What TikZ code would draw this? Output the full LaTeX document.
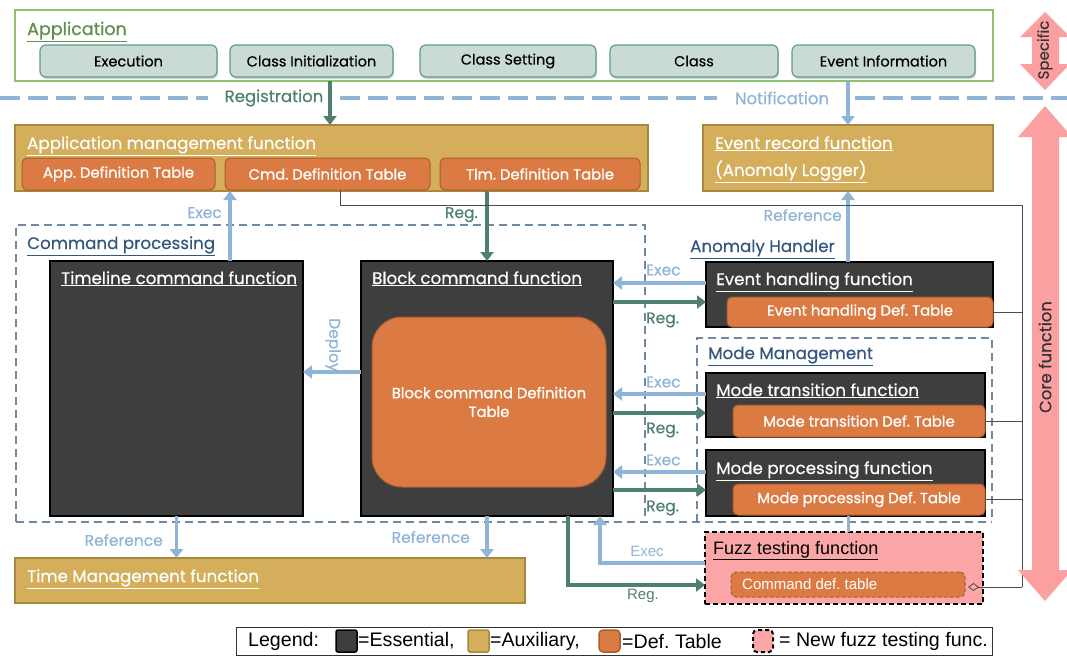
\documentclass[tikz,border=0pt]{standalone}
\usepackage{fontspec}
\setmainfont{Poppins}[FakeBold=0.35]
\newfontfamily\popb{Poppins}[FakeBold=0.9]
\newfontfamily\arialf{Liberation Sans}
\usetikzlibrary{arrows.meta,shadows,calc}
\frenchspacing
\definecolor{dk}{HTML}{3E3E3E}
\definecolor{gold}{HTML}{D4AE5A}
\definecolor{goldb}{HTML}{A8883E}
\definecolor{org}{HTML}{DB7B43}
\definecolor{orgb}{HTML}{A95E2E}
\definecolor{btn}{HTML}{CADBD5}
\definecolor{btnb}{HTML}{5E9C94}
\definecolor{appg}{HTML}{8DC26F}
\definecolor{appt}{HTML}{5D8F4B}
\definecolor{lb}{HTML}{8FB4D6}
\definecolor{gr}{HTML}{4F7F70}
\definecolor{dsh}{HTML}{6E89A3}
\definecolor{ttl}{HTML}{33557E}
\definecolor{pk}{HTML}{FCA7A7}
\definecolor{pka}{HTML}{FB9FA1}
\newcommand{\fs}[1]{\fontsize{#1}{#1}\selectfont}
\tikzset{
  box/.style={anchor=north west, inner sep=0pt, outer sep=0pt},
  ess/.style={box, fill=dk, draw=black, line width=1.5pt},
  aux/.style={box, fill=gold, draw=goldb, line width=1.3pt},
  tab/.style={box, fill=org, draw=orgb, line width=1pt, rounded corners=5pt, text=white, font=\popb\fs{14.8}},
  btnbox/.style={box, fill=btn, draw=btnb, line width=1.2pt, rounded corners=6pt, font=\fs{14.5},
     drop shadow={opacity=0.35, shadow xshift=1pt, shadow yshift=-2pt}},
  wtitle/.style={anchor=base west, inner sep=0pt, text=white, font=\fs{16.7}},
  btitle/.style={anchor=base west, inner sep=0pt, text=ttl, font=\fs{16.7}},
  lbl/.style={inner sep=0pt, font=\fs{15.5}},
  bluearr/.style={draw=lb, line width=3.5pt, -{Triangle[length=9pt,width=13pt]}},
  grnarr/.style={draw=gr, line width=3.5pt, -{Triangle[length=9pt,width=13pt]}},
  dbox/.style={draw=dsh, line width=1.6pt, dash pattern=on 8pt off 5pt},
  sepline/.style={draw=lb, line width=4pt, dash pattern=on 20pt off 8pt},
  thinln/.style={draw=black!70, line width=0.8pt},
  lgtxt/.style={anchor=west, inner sep=0pt, font=\arialf\fs{19.6}},
}
\begin{document}
\frenchspacing
\begin{tikzpicture}[x=1pt,y=-1pt]
\useasboundingbox[fill=white] (0,0) rectangle (1067,656);

% ---------- Application layer ----------
\node[box, draw=appg, line width=1.3pt, minimum width=978pt, minimum height=71pt] (app) at (15,10) {};
\node[anchor=base west, inner sep=0pt, text=appt, font=\fs{17.5}] (apptitle) at (27,35) {\underline{Application}};
\node[btnbox, minimum width=177pt, minimum height=32pt] (exe) at (40,45) {Execution};
\node[btnbox, minimum width=163pt, minimum height=32pt] (cinit) at (230,45) {Class Initialization};
\node[btnbox, minimum width=176pt, minimum height=32pt] (cset) at (420,45) {Class Setting};
\node[btnbox, minimum width=168pt, minimum height=32pt] (cls) at (610,45) {Class};
\node[btnbox, minimum width=183pt, minimum height=32pt] (evi) at (792,45) {Event Information};

% separator
\draw[sepline] (0,98) -- (208,98);
\draw[sepline] (340,98) -- (717,98);
\draw[sepline] (855,98) -- (1067,98);
\node[lbl, text=gr, anchor=center, font=\fs{16.5}] (regl) at (274,98) {Registration};
\node[lbl, text=lb, anchor=center, font=\fs{16.5}] (notl) at (782,98) {Notification};

% ---------- Auxiliary top ----------
\node[aux, minimum width=633pt, minimum height=66pt] (amf) at (15,125) {};
\node[wtitle] (amft) at (27,149) {\underline{Application management function}};
\node[tab, minimum width=193pt, minimum height=32pt] (apptab) at (22,158) {App. Definition Table};
\node[tab, minimum width=205pt, minimum height=32pt] (cmdtab) at (225,158) {Cmd. Definition Table};
\node[tab, minimum width=200pt, minimum height=32pt] (tlmtab) at (440,158) {Tlm. Definition Table};

\node[aux, minimum width=290pt, minimum height=66pt] (erf) at (703,125) {};
\node[wtitle] (erft1) at (715,149) {\underline{Event record function}};
\node[wtitle] (erft2) at (715,176) {\underline{(Anomaly Logger)}};

\draw[grnarr] ([xshift=18.5pt]cinit.south |- app.south) -- ([xshift=18.5pt]cinit.south |- amf.north);
\draw[bluearr] ([xshift=-35.5pt]evi.south |- app.south) -- ([xshift=-35.5pt]evi.south |- erf.north);

% ---------- Command processing ----------
\node[box, minimum width=629pt, minimum height=297pt] (cp) at (16,225) {};
\draw[dbox] (cp.south west) -- (cp.north west) -- (cp.north east) -- (cp.south east);
\node[btitle] (cpt) at (27,249) {\underline{Command processing}};

\node[ess, minimum width=253pt, minimum height=255pt] (tl) at (50,261) {};
\node[wtitle] (tlt) at (61,284) {\underline{Timeline command function}};
\node[ess, minimum width=252pt, minimum height=255pt] (blk) at (361,261) {};
\node[wtitle] (blkt) at (372,284) {\underline{Block command function}};
\node[box, fill=org, draw=orgb, line width=1pt, rounded corners=30pt, minimum width=234pt, minimum height=170pt,
      text=white, font=\popb\fs{14.8}, align=center] (blktab) at (372,317) {Block command Definition\\[4pt]Table};

% ---------- Anomaly handler ----------
\node[btitle] (aht) at (690,252) {\underline{Anomaly Handler}};
\node[ess, minimum width=287pt, minimum height=65pt] (eh) at (706,262) {};
\node[wtitle] (eht) at (716,285) {\underline{Event handling function}};
\node[tab, minimum width=266pt, minimum height=30pt] (ehtab) at (727,297) {Event handling Def. Table};

% ---------- Mode management ----------
\node[box, minimum width=295pt, minimum height=184pt] (mm) at (697,338) {};
\draw[dbox] (mm.south west) -- (mm.north west) -- (mm.north east) -- (mm.south east);
\draw[dbox] (cp.south west) -- (mm.south east);
\node[btitle] (mmt) at (708,359) {\underline{Mode Management}};
\node[ess, minimum width=279pt, minimum height=64pt] (mt) at (706,373) {};
\node[wtitle] (mtt) at (716,396) {\underline{Mode transition function}};
\node[tab, minimum width=252pt, minimum height=32pt] (mttab) at (733,405) {Mode transition Def. Table};
\node[ess, minimum width=279pt, minimum height=66pt] (mp) at (706,450) {};
\node[wtitle] (mpt) at (716,474) {\underline{Mode processing function}};
\node[tab, minimum width=252pt, minimum height=31pt] (mptab) at (733,484) {Mode processing Def. Table};

% ---------- Fuzz testing ----------
\node[box, fill=pk, draw=black, line width=1.5pt, dash pattern=on 5pt off 3pt, minimum width=278pt, minimum height=72pt] (fz) at (705,532) {};
\node[anchor=base west, inner sep=0pt, font=\arialf\fs{18}] (fzt) at (713,554) {\underline{Fuzz testing function}};
\node[box, fill=org, draw=orgb, line width=1pt, dash pattern=on 4pt off 2pt, rounded corners=5pt, minimum width=234pt, minimum height=25pt] (fztab) at (731,572) {};
\node[anchor=west, inner sep=0pt, text=white, font=\arialf\fs{15}] (fztabt) at (742,584.5) {Command def. table};

% ---------- Time management ----------
\node[aux, minimum width=510pt, minimum height=45pt] (tm) at (15,558) {};
\node[wtitle] (tmt) at (27,582) {\underline{Time Management function}};

% ---------- connectors ----------
\coordinate (r1e) at (0,283); \coordinate (r1r) at (0,302);
\coordinate (r2e) at (0,394); \coordinate (r2r) at (0,413);
\coordinate (r3e) at (0,472); \coordinate (r3r) at (0,490);
\coordinate (rfe) at (0,563); \coordinate (rfr) at (0,585);
\coordinate (dep) at (0,372);

\draw[bluearr] ([xshift=53.5pt]tl.north) -- ([xshift=53.5pt]tl.north |- amf.south);
\node[lbl, text=lb, anchor=base east] (l1) at (222,218) {Exec};
\draw[grnarr] (blk.north |- amf.south) -- (blk.north);
\node[lbl, text=gr, anchor=base east] (l2) at (478,218) {Reg.};

\draw[bluearr] (blk.west |- dep) -- (tl.east |- dep);
\node[lbl, text=lb, rotate=-90] (l3) at (333,345) {Deploy};

\draw[bluearr] (eh.west |- r1e) -- (blk.east |- r1e);
\draw[grnarr] (blk.east |- r1r) -- (eh.west |- r1r);
\draw[bluearr] (mt.west |- r2e) -- (blk.east |- r2e);
\draw[grnarr] (blk.east |- r2r) -- (mt.west |- r2r);
\draw[bluearr] (mp.west |- r3e) -- (blk.east |- r3e);
\draw[grnarr] (blk.east |- r3r) -- (mp.west |- r3r);
\node[lbl, text=lb, anchor=west] (e1) at (646,270) {Exec};
\node[lbl, text=gr, anchor=west] (g1) at (646,320) {Reg.};
\node[lbl, text=lb, anchor=west] (e2) at (646,382) {Exec};
\node[lbl, text=gr, anchor=west] (g2) at (646,430) {Reg.};
\node[lbl, text=lb, anchor=west] (e3) at (646,460) {Exec};
\node[lbl, text=gr, anchor=west] (g3) at (646,508) {Reg.};

\draw[bluearr] ([xshift=-1.5pt]eh.north) -- ([xshift=-1.5pt]eh.north |- erf.south);
\node[lbl, text=lb, anchor=east] (rf1) at (842,215) {Reference};
\draw[bluearr] (tl.south) -- (tl.south |- tm.north);
\node[lbl, text=lb, anchor=east] (rf2) at (163,540) {Reference};
\draw[bluearr] (blk.south) -- (blk.south |- tm.north);
\node[lbl, text=lb, anchor=east] (rf3) at (470,537) {Reference};

\draw[bluearr] (fz.west |- rfe) -| ([xshift=113pt]blk.south);
\node[lbl, text=lb, anchor=center, font=\arialf\fs{15}] (fe) at (647,551) {Exec};
\draw[grnarr] ([xshift=81pt]blk.south) |- (fz.west |- rfr);
\node[lbl, text=gr, anchor=center, font=\arialf\fs{15}] (fg) at (643,596) {Reg.};
\draw[draw=lb, line width=3pt] ([xshift=2.5pt]mp.south) -- ([xshift=2.5pt]mp.south |- fz.north);

% thin reference line
\coordinate (rt) at (1022,205);
\coordinate (rb) at (1022,587);
\draw[thinln] ([xshift=12.5pt]cmdtab.south) |- (rt) -- (rb);
\draw[thinln] (ehtab.east) -- (ehtab.east -| rt);
\draw[thinln] (mttab.east) -- (mttab.east -| rt);
\draw[thinln] (mptab.east) -- (mptab.east -| rt);
\draw[thinln, {Diamond[open, length=11pt, width=8pt]}-] ([xshift=3pt]fztab.east |- rb) -- (rb);

% ---------- pink arrows ----------
\fill[pka] (1045,12) -- (1070,37) -- (1059,37) -- (1059,64) -- (1070,64) -- (1045,90) -- (1020,64) -- (1032,64) -- (1032,37) -- (1020,37) -- cycle;
\node[inner sep=0pt, rotate=90, text=black!80, font=\fs{15}] (spec) at (1045,50) {Specific};
\fill[pka] (1045,106) -- (1072,137) -- (1059,137) -- (1059,570) -- (1072,570) -- (1045,601) -- (1018,570) -- (1032,570) -- (1032,137) -- (1018,137) -- cycle;
\node[inner sep=0pt, rotate=90, text=black!80, font=\fs{16.5}] (core) at (1045,357) {Core function};

% ---------- legend ----------
\draw[draw=black!80, line width=0.8pt, fill=white] (236,627) rectangle (992,655.5);
\node[lgtxt] (lg) at (248,641) {Legend:};
\node[box, fill=dk, draw=black, line width=1.5pt, rounded corners=2pt, minimum width=21pt, minimum height=22pt] (lg1) at (336,630) {};
\node[lgtxt] (lg1t) at (358,641) {=Essential,};
\node[box, fill=gold, draw=goldb, line width=1.5pt, rounded corners=2pt, minimum width=21pt, minimum height=22pt] (lg2) at (468,630) {};
\node[lgtxt] (lg2t) at (490,641) {=Auxiliary,};
\node[box, fill=org, draw=orgb, line width=1.5pt, rounded corners=4pt, minimum width=21pt, minimum height=22pt] (lg3) at (599,630) {};
\node[lgtxt] (lg3t) at (622,641) {=Def. Table};
\node[box, fill=pk, draw=black, line width=2pt, dash pattern=on 4pt off 3pt, rounded corners=4pt, minimum width=20pt, minimum height=22pt] (lg4) at (753,630) {};
\node[lgtxt] (lg4t) at (779,641) {= New fuzz testing func.};
\end{tikzpicture}
\end{document}
